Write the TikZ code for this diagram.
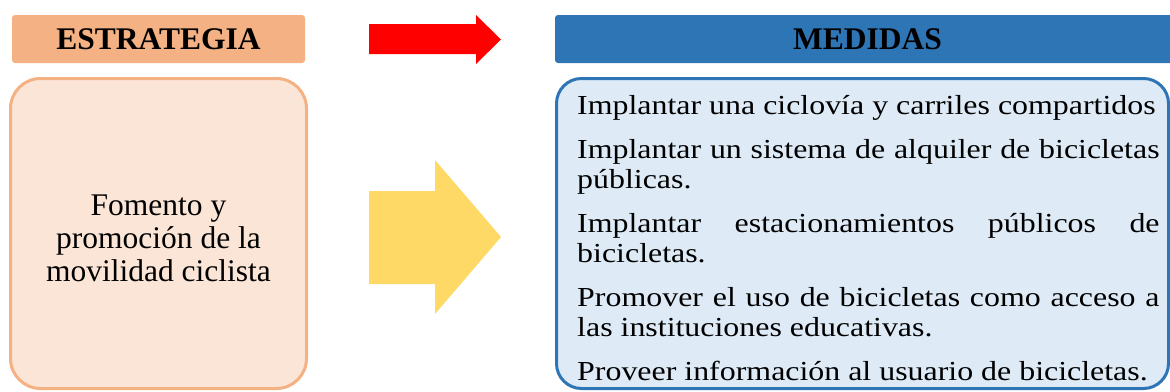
\documentclass[tikz,border=0pt]{standalone}
\usepackage{fontspec}
\setmainfont{Liberation Serif}
\definecolor{estrfill}{HTML}{F4B183}
\definecolor{estrlight}{HTML}{FBE5D6}
\definecolor{medblue}{HTML}{2E75B6}
\definecolor{medlight}{HTML}{DEEBF7}
\definecolor{arrowred}{HTML}{FF0000}
\definecolor{arrowyellow}{HTML}{FFD966}
\newcommand{\listsetup}{\setlength{\parskip}{14pt}\setlength{\parindent}{0pt}\hyphenpenalty=10000 \tolerance=10000 }

\begin{document}
\begin{tikzpicture}[
    x=1pt, y=-1pt,
    head box/.style={rectangle, rounded corners=3pt, inner sep=0pt, minimum height=48pt, font=\fontsize{31.5}{33}\selectfont\bfseries},
    big box/.style={rectangle, line width=3pt, minimum height=310pt, inner sep=0pt},
    strat text/.style={align=center, inner sep=0pt, font=\fontsize{31.5}{33}\selectfont},
    list text/.style={anchor=north west, inner sep=0pt, text width=502pt, xscale=1.16, align=justify,
        font=\fontsize{27.5}{30}\selectfont}
]
\useasboundingbox (0,0) rectangle (1170,391);
\clip (0,0) rectangle (1170,391);

% cabeceras
\node[head box, fill=estrfill, minimum width=293pt] (estr) at (158.5,39) {ESTRATEGIA};
\node[head box, fill=medblue, minimum width=625pt] (med) at (867.5,39) {MEDIDAS};

% cajas principales
\node[big box, draw=estrfill, fill=estrlight, rounded corners=30pt, minimum width=296pt] (strat) at (158.5,233.5) {};
\node[strat text] (stratlabel) at (158.5,238.5) {Fomento y\\promoción de la\\movilidad ciclista};
\node[big box, draw=medblue, fill=medlight, rounded corners=25pt, minimum width=612pt] (meas) at (862.5,233.5) {};

\node[list text] (items) at (577,95) {\listsetup Implantar una ciclovía y carriles compartidos\par
Implantar un sistema de alquiler de bicicletas\linebreak públicas.\par
Implantar estacionamientos públicos de\linebreak bicicletas.\par
Promover el uso de bicicletas como acceso a\linebreak las instituciones educativas.\par
Proveer información al usuario de bicicletas.};

% flechas
\fill[arrowred] (369,24) -- (476,24) -- (476,15) -- (501,39.5) -- (476,64) -- (476,54) -- (369,54) -- cycle;
\fill[arrowyellow] (369,191) -- (435,191) -- (435,160) -- (501,237) -- (435,314) -- (435,284) -- (369,284) -- cycle;

\end{tikzpicture}
\end{document}
